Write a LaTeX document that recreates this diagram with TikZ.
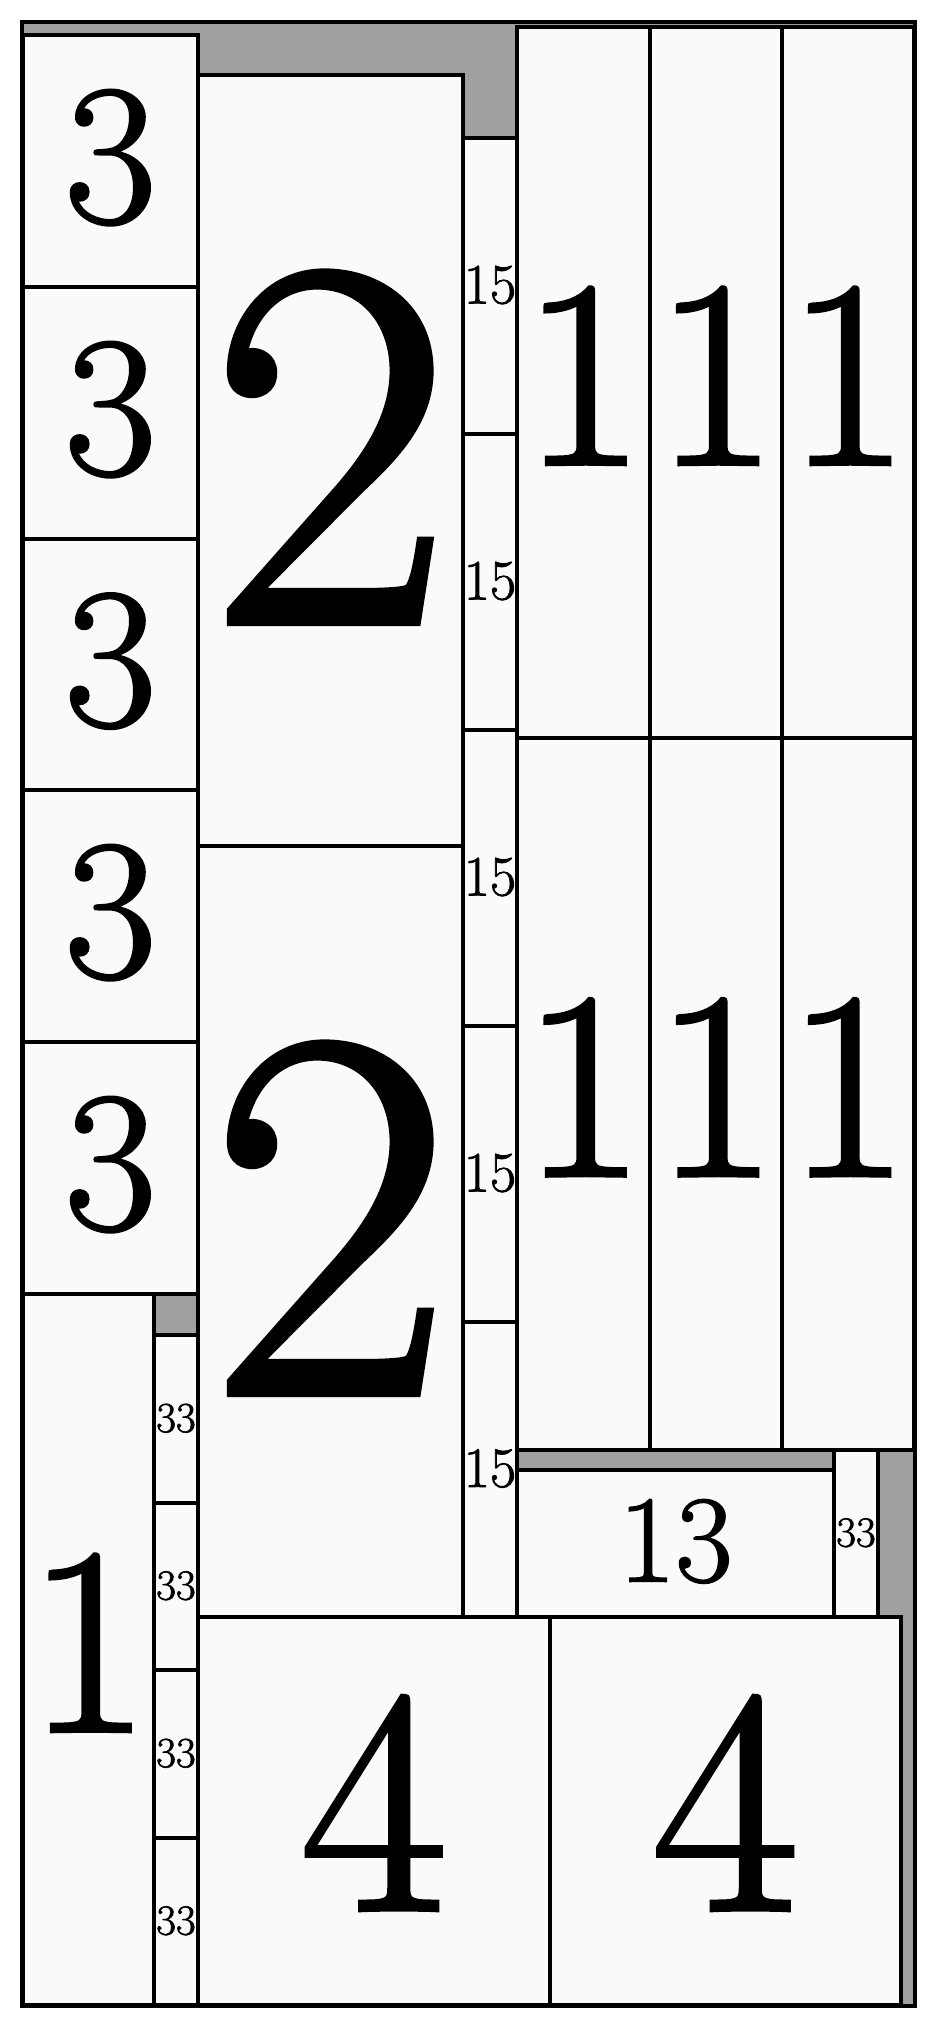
\documentclass[tikz,border=0pt]{standalone}
\usepackage{fontspec}
\setmainfont{Latin Modern Roman}[FakeBold=1.4]
\definecolor{bggray}{HTML}{A0A0A0}
\definecolor{boxfill}{HTML}{FAFAFA}
\tikzset{
  frame/.style={draw=black, fill=bggray, line width=4pt, inner sep=0pt, outer sep=0pt, anchor=north west},
  cell/.style={draw=black, fill=boxfill, line width=4pt, inner sep=0pt, outer sep=0pt, anchor=north west}
}
\newcommand\cell[7]{%
  \pgfmathsetmacro\cw{#4-#2}\pgfmathsetmacro\ch{#5-#3}\pgfmathsetmacro\cd{0.05*#6}%
  \node[cell, minimum width=\cw pt, minimum height=\ch pt, font=\fontsize{#6}{#6}\selectfont, text depth=\cd pt] (#1) at (#2,#3) {#7};}
\begin{document}
\begin{tikzpicture}[x=1pt,y=-1pt]
\useasboundingbox (0,0) rectangle (936,2028);
\node[frame, minimum width=893pt, minimum height=1984pt] (outer) at (22,22) {};
% column of 3s
\cell{ta}{23}{35}{198}{287}{200}{3}
\cell{tb}{23}{287}{198}{539}{200}{3}
\cell{tc}{23}{539}{198}{790}{200}{3}
\cell{td}{23}{790}{198}{1042}{200}{3}
\cell{te}{23}{1042}{198}{1294}{200}{3}
% 2s
\cell{twa}{198}{75}{463}{846}{530}{2}
\cell{twb}{198}{846}{463}{1617}{530}{2}
% 15s
\cell{fa}{463}{138}{517}{434}{57}{15}
\cell{fb}{463}{434}{517}{730}{57}{15}
\cell{fc}{463}{730}{517}{1026}{57}{15}
\cell{fd}{463}{1026}{517}{1322}{57}{15}
\cell{fe}{463}{1322}{517}{1617}{57}{15}
% grid of 1s
\cell{oa}{517}{27}{650}{738}{268}{1}
\cell{ob}{650}{27}{782}{738}{268}{1}
\cell{oc}{782}{27}{914}{738}{268}{1}
\cell{od}{517}{738}{650}{1450}{268}{1}
\cell{oe}{650}{738}{782}{1450}{268}{1}
\cell{of}{782}{738}{914}{1450}{268}{1}
% 13 and 33 right
\cell{th}{517}{1470}{834}{1617}{124}{13}
\cell{rr}{834}{1450}{878}{1617}{43}{33}
% left bottom
\cell{ol}{23}{1294}{154}{2005}{268}{1}
\cell{la}{154}{1335}{198}{1503}{43}{33}
\cell{lb}{154}{1503}{198}{1670}{43}{33}
\cell{lc}{154}{1670}{198}{1838}{43}{33}
\cell{ld}{154}{1838}{198}{2005}{43}{33}
% 4s
\cell{fra}{198}{1617}{550}{2005}{320}{4}
\cell{frb}{550}{1617}{901}{2005}{320}{4}
\end{tikzpicture}
\end{document}
